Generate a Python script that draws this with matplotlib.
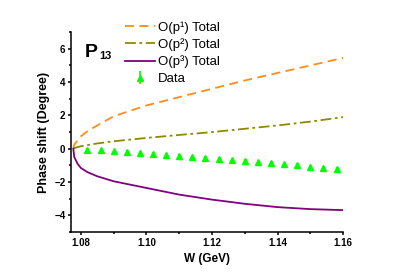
# P13 phase shift vs W, chiral orders compared with data

import numpy as np
import matplotlib.pyplot as plt
from matplotlib.ticker import MultipleLocator

plt.rcParams['font.family'] = ['Liberation Sans', 'DejaVu Sans']

# Curves
w_curve = [1.0777, 1.078, 1.079, 1.080, 1.082, 1.085, 1.090, 1.100, 1.110,
           1.120, 1.130, 1.140, 1.150, 1.160]
p1_total = [0.0, 0.25, 0.5, 0.75, 1.05, 1.4, 1.95, 2.6, 3.1, 3.6, 4.1, 4.55, 5.0, 5.45]
p2_total = [0.0, 0.04, 0.1, 0.15, 0.22, 0.32, 0.45, 0.65, 0.83, 1.0, 1.2, 1.4, 1.63, 1.9]
p3_total = [0.0, -0.5, -0.9, -1.15, -1.4, -1.65, -1.95, -2.35, -2.75, -3.05,
            -3.3, -3.5, -3.62, -3.68]

# Data points
w_data = [1.082, 1.086, 1.090, 1.094, 1.098, 1.102, 1.106, 1.110, 1.114, 1.118,
          1.122, 1.126, 1.130, 1.134, 1.138, 1.142, 1.146, 1.150, 1.154, 1.158]
phase_data = [-0.05, -0.1, -0.15, -0.2, -0.25, -0.3, -0.35, -0.42, -0.48, -0.53,
              -0.6, -0.67, -0.74, -0.8, -0.86, -0.93, -1.0, -1.07, -1.14, -1.2]
data_err = [0.1] * len(w_data)

labels = ['O(p¹) Total', 'O(p²) Total', 'O(p³) Total', 'Data']

fig = plt.figure(figsize=(3.99, 2.79), dpi=100)
ax = fig.add_axes([0.178, 0.168, 0.682, 0.717])

ax.plot(w_curve, p1_total, color='#FF8C1A', ls=(0, (5, 3)), lw=1.3, label=labels[0])
ax.plot(w_curve, p2_total, color='#8B8B00', ls=(0, (6, 2, 1.5, 2)), lw=1.3, label=labels[1])
ax.plot(w_curve, p3_total, color='#800080', ls='-', lw=1.3, label=labels[2])
ax.errorbar(w_data, phase_data, yerr=data_err, fmt='^', color='#00FF00', ms=5,
            elinewidth=1.2, capsize=0, label=labels[3])

ax.set_xlim(1.077, 1.16)
ax.set_ylim(-5, 7)
ax.set_xticks([1.08, 1.10, 1.12, 1.14, 1.16])
ax.set_xticklabels(['1.08', '1.10', '1.12', '1.14', '1.16'])
ax.xaxis.set_minor_locator(MultipleLocator(0.01))
ax.yaxis.set_major_locator(MultipleLocator(2))
ax.yaxis.set_minor_locator(MultipleLocator(1))

for s in ['top', 'right']:
    ax.spines[s].set_visible(False)
for s in ['left', 'bottom']:
    ax.spines[s].set_linewidth(1.1)
ax.tick_params(which='major', direction='out', length=2.5, width=1.1, labelsize=7, pad=1.5)
ax.tick_params(which='minor', direction='out', length=1.5, width=1.1)
for lab in ax.get_xticklabels() + ax.get_yticklabels():
    lab.set_fontweight('bold')

ax.set_xlabel('W (GeV)', fontsize=8.5, fontweight='bold', labelpad=4)
ax.set_ylabel('Phase shift (Degree)', fontsize=9, fontweight='bold', labelpad=3)

fig.text(85 / 399, 1 - 57 / 279, 'P', fontsize=14, fontweight='bold', va='baseline')
fig.text(99 / 399, 1 - 59 / 279, '13', fontsize=8, fontweight='bold', va='baseline')

ax.legend(loc='upper left', bbox_to_anchor=(125 / 399, 1 - 21 / 279),
          bbox_transform=fig.transFigure, frameon=False, fontsize=9.5,
          borderpad=0, borderaxespad=0, handlelength=2.3, handletextpad=0.2,
          labelspacing=0.35)

fig.savefig('out.png', dpi=100)
